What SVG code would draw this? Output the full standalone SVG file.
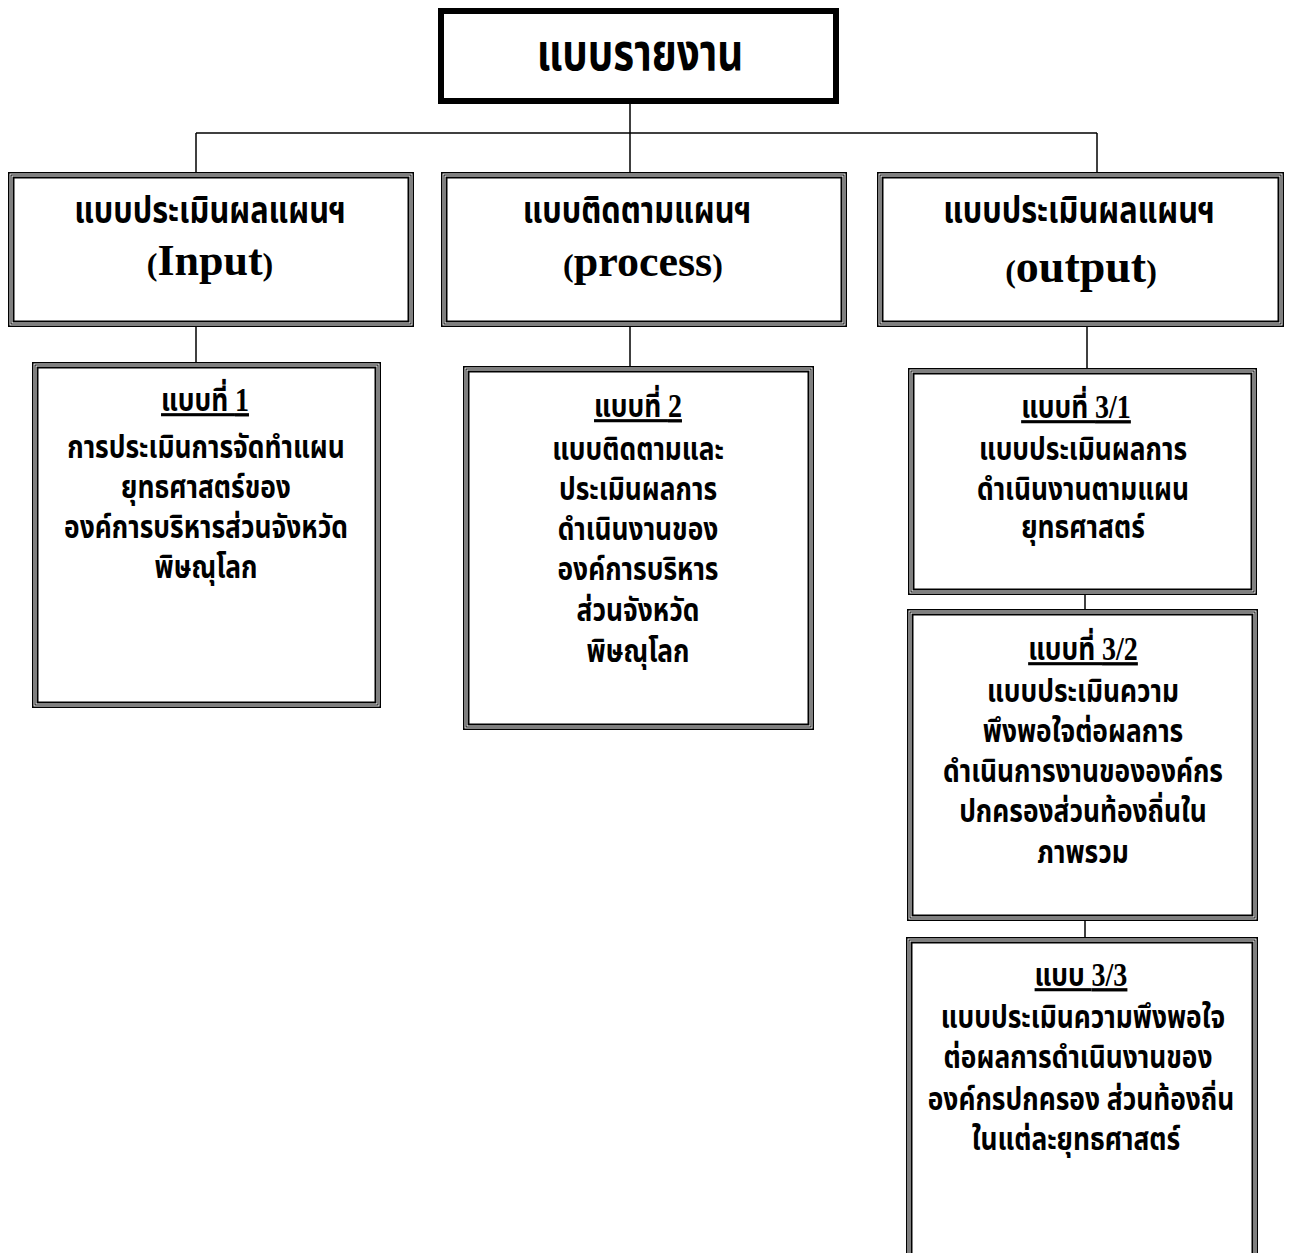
<svg xmlns="http://www.w3.org/2000/svg" width="1290" height="1253" viewBox="0 0 1290 1253">
<style>
.o{fill:none;stroke:#000;stroke-width:1.5}
.m{fill:none;stroke:#000;stroke-width:1}
.i{fill:none;stroke:#000;stroke-width:2}
.c{fill:none;stroke:#000;stroke-width:1.5}
.th{font-family:"Noto Sans Thai","Noto Sans","DejaVu Sans",sans-serif;font-weight:bold;fill:#000;text-anchor:middle}
.t1{font-size:51px}
.t2{font-size:37px}
.t3{font-size:31px}
.u{text-decoration:underline}
.d{font-family:"Liberation Serif","Times New Roman",serif;font-size:33px;font-weight:bold}
.en{font-family:"Liberation Serif","Times New Roman",serif;font-weight:bold;fill:#000;text-anchor:middle}
.p{font-size:32px}
</style>
<rect width="1290" height="1253" fill="#fff"/>
<g id="connectors">
<line class="c" x1="630" y1="104" x2="630" y2="133"/>
<line class="c" x1="196" y1="133" x2="1097" y2="133"/>
<line class="c" x1="196" y1="133" x2="196" y2="172"/>
<line class="c" x1="630" y1="133" x2="630" y2="172"/>
<line class="c" x1="1097" y1="133" x2="1097" y2="172"/>
<line class="c" x1="196" y1="327" x2="196" y2="362"/>
<line class="c" x1="630" y1="327" x2="630" y2="366"/>
<line class="c" x1="1087" y1="327" x2="1087" y2="368"/>
<line class="c" x1="1085" y1="595" x2="1085" y2="609"/>
<line class="c" x1="1085" y1="921" x2="1085" y2="937"/>
</g>
<g id="top">
<rect x="441" y="11" width="395" height="90" fill="none" stroke="#000" stroke-width="6"/>
<text class="th t1" transform="translate(640,70) scale(0.79,1)">แบบรายงาน</text>
</g>
<g id="b1">
<rect class="o" x="8.75" y="172.75" width="404.5" height="153.5"/>
<rect class="m" x="11" y="175" width="400" height="149"/>
<rect class="i" x="13.5" y="177.5" width="395" height="144"/>
<text class="th t2" transform="translate(210,223) scale(0.83,1)">แบบประเมินผลแผนฯ</text>
<text class="en" x="210" y="275" font-size="44"><tspan class="p">(</tspan>Input<tspan class="p">)</tspan></text>
</g>
<g id="b2">
<rect class="o" x="441.75" y="172.75" width="404.5" height="153.5"/>
<rect class="m" x="444" y="175" width="400" height="149"/>
<rect class="i" x="446.5" y="177.5" width="395" height="144"/>
<text class="th t2" transform="translate(637,223) scale(0.83,1)">แบบติดตามแผนฯ</text>
<text class="en" x="643" y="276" font-size="44"><tspan class="p">(</tspan>process<tspan class="p">)</tspan></text>
</g>
<g id="b3">
<rect class="o" x="877.75" y="172.75" width="405.5" height="153.5"/>
<rect class="m" x="880" y="175" width="401" height="149"/>
<rect class="i" x="882.5" y="177.5" width="396" height="144"/>
<text class="th t2" transform="translate(1079,223) scale(0.83,1)">แบบประเมินผลแผนฯ</text>
<text class="en" x="1081" y="282" font-size="46"><tspan class="p">(</tspan>output<tspan class="p">)</tspan></text>
</g>
<g id="c1">
<rect class="o" x="32.75" y="362.75" width="347.5" height="344.5"/>
<rect class="m" x="35" y="365" width="343" height="340"/>
<rect class="i" x="37.5" y="367.5" width="338" height="335"/>
<text class="th t3 u" transform="translate(205,411) scale(0.85,1)">แบบที่ <tspan class="d">1</tspan></text>
<text class="th t3" transform="translate(206,458) scale(0.85,1)">การประเมินการจัดทำแผน</text>
<text class="th t3" transform="translate(206,498) scale(0.85,1)">ยุทธศาสตร์ของ</text>
<text class="th t3" transform="translate(206,538) scale(0.85,1)">องค์การบริหารส่วนจังหวัด</text>
<text class="th t3" transform="translate(206,578) scale(0.85,1)">พิษณุโลก</text>
</g>
<g id="c2">
<rect class="o" x="463.75" y="366.75" width="349.5" height="362.5"/>
<rect class="m" x="466" y="369" width="345" height="358"/>
<rect class="i" x="468.5" y="371.5" width="340" height="353"/>
<text class="th t3 u" transform="translate(638,417) scale(0.85,1)">แบบที่ <tspan class="d">2</tspan></text>
<text class="th t3" transform="translate(638,460) scale(0.85,1)">แบบติดตามและ</text>
<text class="th t3" transform="translate(638,500) scale(0.85,1)">ประเมินผลการ</text>
<text class="th t3" transform="translate(638,540) scale(0.85,1)">ดำเนินงานของ</text>
<text class="th t3" transform="translate(638,580) scale(0.85,1)">องค์การบริหาร</text>
<text class="th t3" transform="translate(638,621) scale(0.85,1)">ส่วนจังหวัด</text>
<text class="th t3" transform="translate(638,662) scale(0.85,1)">พิษณุโลก</text>
</g>
<g id="c31">
<rect class="o" x="908.75" y="368.75" width="347.5" height="225.5"/>
<rect class="m" x="911" y="371" width="343" height="221"/>
<rect class="i" x="913.5" y="373.5" width="338" height="216"/>
<text class="th t3 u" transform="translate(1076,418) scale(0.85,1)">แบบที่ <tspan class="d">3/1</tspan></text>
<text class="th t3" transform="translate(1083,460) scale(0.85,1)">แบบประเมินผลการ</text>
<text class="th t3" transform="translate(1083,500) scale(0.85,1)">ดำเนินงานตามแผน</text>
<text class="th t3" transform="translate(1083,538) scale(0.85,1)">ยุทธศาสตร์</text>
</g>
<g id="c32">
<rect class="o" x="907.75" y="609.75" width="349.5" height="310.5"/>
<rect class="m" x="910" y="612" width="345" height="306"/>
<rect class="i" x="912.5" y="614.5" width="340" height="301"/>
<text class="th t3 u" transform="translate(1083,660) scale(0.85,1)">แบบที่ <tspan class="d">3/2</tspan></text>
<text class="th t3" transform="translate(1083,702) scale(0.85,1)">แบบประเมินความ</text>
<text class="th t3" transform="translate(1083,742) scale(0.85,1)">พึงพอใจต่อผลการ</text>
<text class="th t3" transform="translate(1083,782) scale(0.85,1)">ดำเนินการงานขององค์กร</text>
<text class="th t3" transform="translate(1083,822) scale(0.85,1)">ปกครองส่วนท้องถิ่นใน</text>
<text class="th t3" transform="translate(1083,863) scale(0.85,1)">ภาพรวม</text>
</g>
<g id="c33">
<rect class="o" x="906.75" y="937.75" width="350.5" height="330"/>
<rect class="m" x="909" y="940" width="346" height="330"/>
<rect class="i" x="911.5" y="942.5" width="341" height="330"/>
<text class="th t3 u" transform="translate(1081,986) scale(0.85,1)">แบบ <tspan class="d">3/3</tspan></text>
<text class="th t3" transform="translate(1083,1028) scale(0.85,1)">แบบประเมินความพึงพอใจ</text>
<text class="th t3" transform="translate(1078,1068) scale(0.85,1)">ต่อผลการดำเนินงานของ</text>
<text class="th t3" transform="translate(1081,1110) scale(0.85,1)">องค์กรปกครอง ส่วนท้องถิ่น</text>
<text class="th t3" transform="translate(1076,1150) scale(0.85,1)">ในแต่ละยุทธศาสตร์</text>
</g>
</svg>
